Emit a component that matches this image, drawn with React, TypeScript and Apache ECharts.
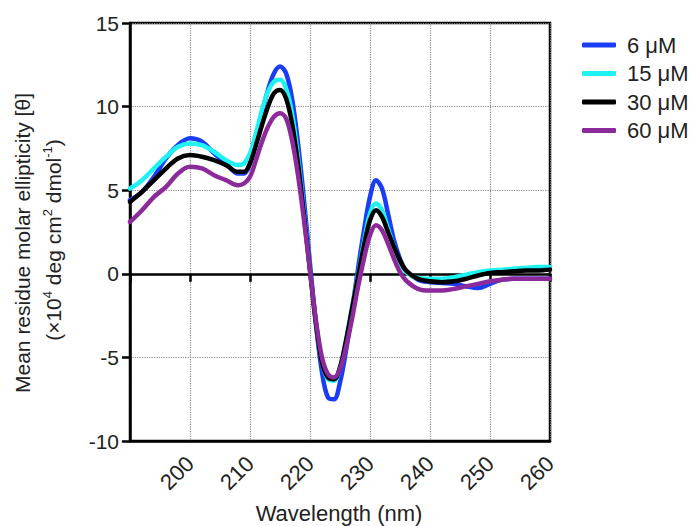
import React, { useEffect, useRef } from 'react';
import * as echarts from 'echarts';

const wavelengths = [
  190, 192, 194, 196, 198, 200, 202, 204, 206, 208,
  209, 210, 211, 212, 213, 214, 215, 216, 217, 218,
  219, 220, 221, 222, 223, 224, 225, 226, 227, 228,
  229, 230, 231, 232, 233, 234, 235, 236, 238, 240,
  242, 244, 246, 248, 250, 252, 254, 256, 258, 260,
];

const uM6 = [
  4.4, 4.9, 5.8, 6.9, 7.7, 8.1, 7.9, 7.2, 6.6, 6.0,
  6.0, 6.6, 8.0, 9.6, 11.0, 12.0, 12.4, 12.0, 10.5, 7.8,
  4.4, 0.6, -3.0, -5.9, -7.4, -7.5, -6.5, -4.6, -2.2, 0.3,
  2.6, 4.6, 5.6, 5.1, 3.6, 2.0, 0.9, 0.2, -0.35, -0.5,
  -0.55, -0.6, -0.75, -0.85, -0.6, -0.35, -0.3, -0.3, -0.3, -0.3,
];

const uM15 = [
  5.1, 5.6, 6.3, 7.0, 7.6, 7.8, 7.7, 7.3, 6.8, 6.5,
  6.6, 7.2, 8.4, 9.8, 10.9, 11.5, 11.6, 11.1, 9.6, 7.0,
  3.7, 0.3, -3.0, -5.3, -6.3, -6.4, -5.6, -4.0, -2.0, -0.1,
  1.9, 3.6, 4.2, 3.8, 2.7, 1.6, 0.7, 0.1, -0.25, -0.3,
  -0.3, -0.2, -0.05, 0.1, 0.2, 0.25, 0.3, 0.35, 0.4, 0.4,
];

const uM30 = [
  4.3, 4.9, 5.6, 6.3, 6.9, 7.1, 7.0, 6.8, 6.5, 6.1,
  6.1, 6.6, 7.7, 8.9, 10.0, 10.8, 11.0, 10.5, 9.0, 6.6,
  3.5, 0.2, -3.0, -5.3, -6.2, -6.3, -5.6, -4.0, -2.1, -0.2,
  1.7, 3.2, 3.8, 3.4, 2.5, 1.6, 0.8, 0.2, -0.3, -0.45,
  -0.5, -0.45, -0.3, -0.1, 0.05, 0.1, 0.15, 0.2, 0.2, 0.25,
];

const uM60 = [
  3.1, 3.8, 4.6, 5.2, 6.0, 6.4, 6.3, 5.9, 5.6, 5.3,
  5.4, 5.8, 6.8, 7.9, 8.8, 9.4, 9.6, 9.3, 8.0, 5.9,
  3.2, 0.2, -2.8, -5.0, -6.0, -6.2, -5.7, -4.4, -2.7, -0.8,
  0.9, 2.3, 2.9, 2.6, 1.8, 0.9, 0.1, -0.4, -0.9, -1.0,
  -1.0, -0.9, -0.75, -0.6, -0.45, -0.35, -0.3, -0.3, -0.3, -0.3,
];

const seriesNames = ['6 μM', '15 μM', '30 μM', '60 μM'];
const seriesValues = [uM6, uM15, uM30, uM60];
const seriesColors = ['#1a3cf5', '#1ef2f2', '#000000', '#8c2a9c'];

const FONT = '"Liberation Sans", Arial, Helvetica, sans-serif';

export default function App() {
  const ref = useRef<HTMLDivElement>(null);

  useEffect(() => {
    document.body.style.margin = '0';
    if (!ref.current) return;
    const chart = echarts.init(ref.current, undefined, { renderer: 'svg' });

    const series = seriesNames.map((name, i) => ({
      name,
      type: 'line',
      xAxisIndex: 0,
      yAxisIndex: 0,
      data: wavelengths.map((w, j) => [w, seriesValues[i][j]]),
      showSymbol: false,
      symbol: 'none',
      smooth: 0.35,
      lineStyle: { color: seriesColors[i], width: 4.5, cap: 'round', join: 'round' },
      itemStyle: { color: seriesColors[i] },
      z: 3 + i,
    }));

    chart.setOption({
      animation: false,
      textStyle: { fontFamily: FONT },
      grid: {
        left: 130,
        right: 143,
        top: 23,
        bottom: 85,
        show: true,
        borderColor: '#000',
        borderWidth: 2.5,
        backgroundColor: 'transparent',
      },
      legend: {
        orient: 'vertical',
        left: 577,
        top: 29,
        icon: 'roundRect',
        itemWidth: 34,
        itemHeight: 5,
        itemGap: 6.5,
        textStyle: { fontSize: 22, color: '#222', fontFamily: FONT, padding: [0, 0, 0, 6] },
        data: seriesNames,
      },
      xAxis: [
        {
          type: 'value',
          min: 190,
          max: 260,
          interval: 10,
          position: 'bottom',
          axisLine: { show: true, onZero: false, lineStyle: { color: '#000', width: 2.5 } },
          axisTick: { show: false },
          axisLabel: {
            rotate: 45,
            fontSize: 22,
            color: '#222',
            fontFamily: FONT,
            margin: 19,
            showMinLabel: false,
            formatter: (v: number) => (v === 190 ? '' : String(v)),
          },
          splitLine: { show: true, lineStyle: { color: '#8a8a8a', type: 'dotted', width: 1.2 } },
        },
        {
          type: 'value',
          min: 190,
          max: 260,
          interval: 10,
          position: 'bottom',
          axisLine: { show: true, onZero: true, lineStyle: { color: '#000', width: 2.5 } },
          axisTick: { show: true, length: 8, lineStyle: { color: '#000', width: 2.5 } },
          axisLabel: { show: false },
          splitLine: { show: false },
        },
      ],
      yAxis: {
        type: 'value',
        min: -10,
        max: 15,
        interval: 5,
        axisLine: { show: true, onZero: false, lineStyle: { color: '#000', width: 2.5 } },
        axisTick: { show: true, length: 8, lineStyle: { color: '#000', width: 2.5 } },
        axisLabel: { fontSize: 21, color: '#222', fontFamily: FONT, margin: 11 },
        splitLine: { show: true, lineStyle: { color: '#8a8a8a', type: 'dotted', width: 1.2 } },
      },
      graphic: [
        {
          type: 'text',
          x: 22,
          y: 243,
          rotation: Math.PI / 2,
          style: {
            text: 'Mean residue molar ellipticity [θ]',
            font: `21px ${FONT}`,
            fill: '#222',
            textAlign: 'center',
            textVerticalAlign: 'middle',
          },
        },
        {
          type: 'text',
          x: 53,
          y: 240,
          rotation: Math.PI / 2,
          style: {
            text: '{n|(×10}{s|4}{n| deg cm}{s|2}{n| dmol}{s|-1}{n|)}',
            fill: '#222',
            textAlign: 'center',
            textVerticalAlign: 'middle',
            rich: {
              n: { fontSize: 21, fontFamily: FONT, fill: '#222' },
              s: { fontSize: 13, fontFamily: FONT, fill: '#222', padding: [0, 0, 12, 0] },
            },
          },
        },
        {
          type: 'text',
          x: 339,
          y: 513,
          style: {
            text: 'Wavelength (nm)',
            font: `22px ${FONT}`,
            fill: '#222',
            textAlign: 'center',
            textVerticalAlign: 'middle',
          },
        },
      ],
      series,
    });

    return () => chart.dispose();
  }, []);

  return <div ref={ref} style={{ width: 693, height: 526 }} />;
}
